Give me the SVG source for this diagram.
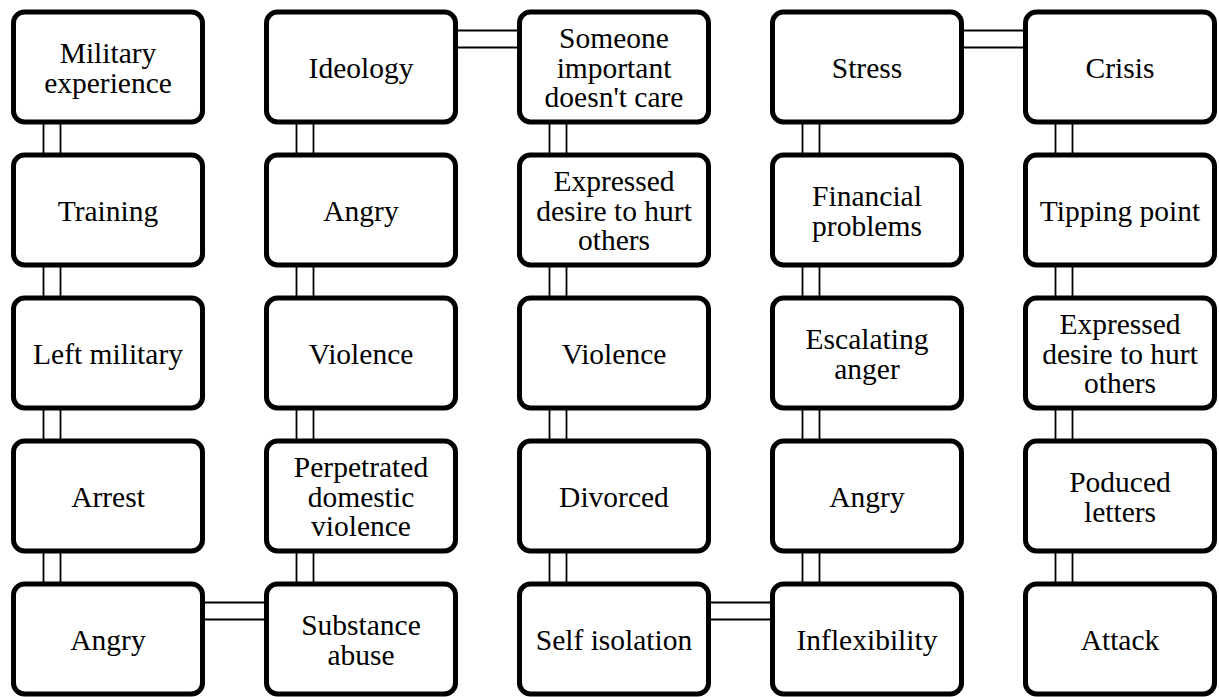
<svg xmlns="http://www.w3.org/2000/svg" width="1219" height="697" viewBox="0 0 1219 697">
<style>
.n rect{fill:#fff;stroke:#000;stroke-width:5}
.n text{font-family:"Liberation Serif","Times New Roman",serif;font-size:29.5px;fill:#000;text-anchor:middle}
#connectors line{stroke:#000;stroke-width:1.8}
</style>
<rect width="1219" height="697" fill="#fff"/>
<g id="connectors">
<line x1="43.5" y1="120" x2="43.5" y2="160"/><line x1="60.5" y1="120" x2="60.5" y2="160"/>
<line x1="43.5" y1="263" x2="43.5" y2="303"/><line x1="60.5" y1="263" x2="60.5" y2="303"/>
<line x1="43.5" y1="406" x2="43.5" y2="446"/><line x1="60.5" y1="406" x2="60.5" y2="446"/>
<line x1="43.5" y1="549" x2="43.5" y2="589"/><line x1="60.5" y1="549" x2="60.5" y2="589"/>
<line x1="296.5" y1="120" x2="296.5" y2="160"/><line x1="313.5" y1="120" x2="313.5" y2="160"/>
<line x1="296.5" y1="263" x2="296.5" y2="303"/><line x1="313.5" y1="263" x2="313.5" y2="303"/>
<line x1="296.5" y1="406" x2="296.5" y2="446"/><line x1="313.5" y1="406" x2="313.5" y2="446"/>
<line x1="296.5" y1="549" x2="296.5" y2="589"/><line x1="313.5" y1="549" x2="313.5" y2="589"/>
<line x1="549.5" y1="120" x2="549.5" y2="160"/><line x1="566.5" y1="120" x2="566.5" y2="160"/>
<line x1="549.5" y1="263" x2="549.5" y2="303"/><line x1="566.5" y1="263" x2="566.5" y2="303"/>
<line x1="549.5" y1="406" x2="549.5" y2="446"/><line x1="566.5" y1="406" x2="566.5" y2="446"/>
<line x1="549.5" y1="549" x2="549.5" y2="589"/><line x1="566.5" y1="549" x2="566.5" y2="589"/>
<line x1="802.5" y1="120" x2="802.5" y2="160"/><line x1="819.5" y1="120" x2="819.5" y2="160"/>
<line x1="802.5" y1="263" x2="802.5" y2="303"/><line x1="819.5" y1="263" x2="819.5" y2="303"/>
<line x1="802.5" y1="406" x2="802.5" y2="446"/><line x1="819.5" y1="406" x2="819.5" y2="446"/>
<line x1="802.5" y1="549" x2="802.5" y2="589"/><line x1="819.5" y1="549" x2="819.5" y2="589"/>
<line x1="1055.5" y1="120" x2="1055.5" y2="160"/><line x1="1072.5" y1="120" x2="1072.5" y2="160"/>
<line x1="1055.5" y1="263" x2="1055.5" y2="303"/><line x1="1072.5" y1="263" x2="1072.5" y2="303"/>
<line x1="1055.5" y1="406" x2="1055.5" y2="446"/><line x1="1072.5" y1="406" x2="1072.5" y2="446"/>
<line x1="1055.5" y1="549" x2="1055.5" y2="589"/><line x1="1072.5" y1="549" x2="1072.5" y2="589"/>
<line x1="200" y1="602.5" x2="270" y2="602.5"/><line x1="200" y1="619.5" x2="270" y2="619.5"/>
<line x1="706" y1="602.5" x2="776" y2="602.5"/><line x1="706" y1="619.5" x2="776" y2="619.5"/>
<line x1="453" y1="30.5" x2="523" y2="30.5"/><line x1="453" y1="47.5" x2="523" y2="47.5"/>
<line x1="959" y1="30.5" x2="1029" y2="30.5"/><line x1="959" y1="47.5" x2="1029" y2="47.5"/>
</g>
<g id="n-military-experience" class="n"><rect x="13.5" y="12" width="189" height="110" rx="11"/><text x="108" y="63">Military</text><text x="108" y="92.5">experience</text></g>
<g id="n-ideology" class="n"><rect x="266.5" y="12" width="189" height="110" rx="11"/><text x="361" y="77.5">Ideology</text></g>
<g id="n-someone-important" class="n"><rect x="519.5" y="12" width="189" height="110" rx="11"/><text x="614" y="48">Someone</text><text x="614" y="77.5">important</text><text x="614" y="107">doesn't care</text></g>
<g id="n-stress" class="n"><rect x="772.5" y="12" width="189" height="110" rx="11"/><text x="867" y="77.5">Stress</text></g>
<g id="n-crisis" class="n"><rect x="1025.5" y="12" width="189" height="110" rx="11"/><text x="1120" y="77.5">Crisis</text></g>
<g id="n-training" class="n"><rect x="13.5" y="155" width="189" height="110" rx="11"/><text x="108" y="220.5">Training</text></g>
<g id="n-angry-2" class="n"><rect x="266.5" y="155" width="189" height="110" rx="11"/><text x="361" y="220.5">Angry</text></g>
<g id="n-expressed-desire-1" class="n"><rect x="519.5" y="155" width="189" height="110" rx="11"/><text x="614" y="191">Expressed</text><text x="614" y="220.5">desire to hurt</text><text x="614" y="250">others</text></g>
<g id="n-financial-problems" class="n"><rect x="772.5" y="155" width="189" height="110" rx="11"/><text x="867" y="206">Financial</text><text x="867" y="235.5">problems</text></g>
<g id="n-tipping-point" class="n"><rect x="1025.5" y="155" width="189" height="110" rx="11"/><text x="1120" y="220.5">Tipping point</text></g>
<g id="n-left-military" class="n"><rect x="13.5" y="298" width="189" height="110" rx="11"/><text x="108" y="363.5">Left military</text></g>
<g id="n-violence-1" class="n"><rect x="266.5" y="298" width="189" height="110" rx="11"/><text x="361" y="363.5">Violence</text></g>
<g id="n-violence-2" class="n"><rect x="519.5" y="298" width="189" height="110" rx="11"/><text x="614" y="363.5">Violence</text></g>
<g id="n-escalating-anger" class="n"><rect x="772.5" y="298" width="189" height="110" rx="11"/><text x="867" y="349">Escalating</text><text x="867" y="378.5">anger</text></g>
<g id="n-expressed-desire-2" class="n"><rect x="1025.5" y="298" width="189" height="110" rx="11"/><text x="1120" y="334">Expressed</text><text x="1120" y="363.5">desire to hurt</text><text x="1120" y="393">others</text></g>
<g id="n-arrest" class="n"><rect x="13.5" y="441" width="189" height="110" rx="11"/><text x="108" y="506.5">Arrest</text></g>
<g id="n-perpetrated-dv" class="n"><rect x="266.5" y="441" width="189" height="110" rx="11"/><text x="361" y="477">Perpetrated</text><text x="361" y="506.5">domestic</text><text x="361" y="536">violence</text></g>
<g id="n-divorced" class="n"><rect x="519.5" y="441" width="189" height="110" rx="11"/><text x="614" y="506.5">Divorced</text></g>
<g id="n-angry-4" class="n"><rect x="772.5" y="441" width="189" height="110" rx="11"/><text x="867" y="506.5">Angry</text></g>
<g id="n-poduced-letters" class="n"><rect x="1025.5" y="441" width="189" height="110" rx="11"/><text x="1120" y="492">Poduced</text><text x="1120" y="521.5">letters</text></g>
<g id="n-angry-5" class="n"><rect x="13.5" y="584" width="189" height="110" rx="11"/><text x="108" y="649.5">Angry</text></g>
<g id="n-substance-abuse" class="n"><rect x="266.5" y="584" width="189" height="110" rx="11"/><text x="361" y="635">Substance</text><text x="361" y="664.5">abuse</text></g>
<g id="n-self-isolation" class="n"><rect x="519.5" y="584" width="189" height="110" rx="11"/><text x="614" y="649.5">Self isolation</text></g>
<g id="n-inflexibility" class="n"><rect x="772.5" y="584" width="189" height="110" rx="11"/><text x="867" y="649.5">Inflexibility</text></g>
<g id="n-attack" class="n"><rect x="1025.5" y="584" width="189" height="110" rx="11"/><text x="1120" y="649.5">Attack</text></g>
</svg>
